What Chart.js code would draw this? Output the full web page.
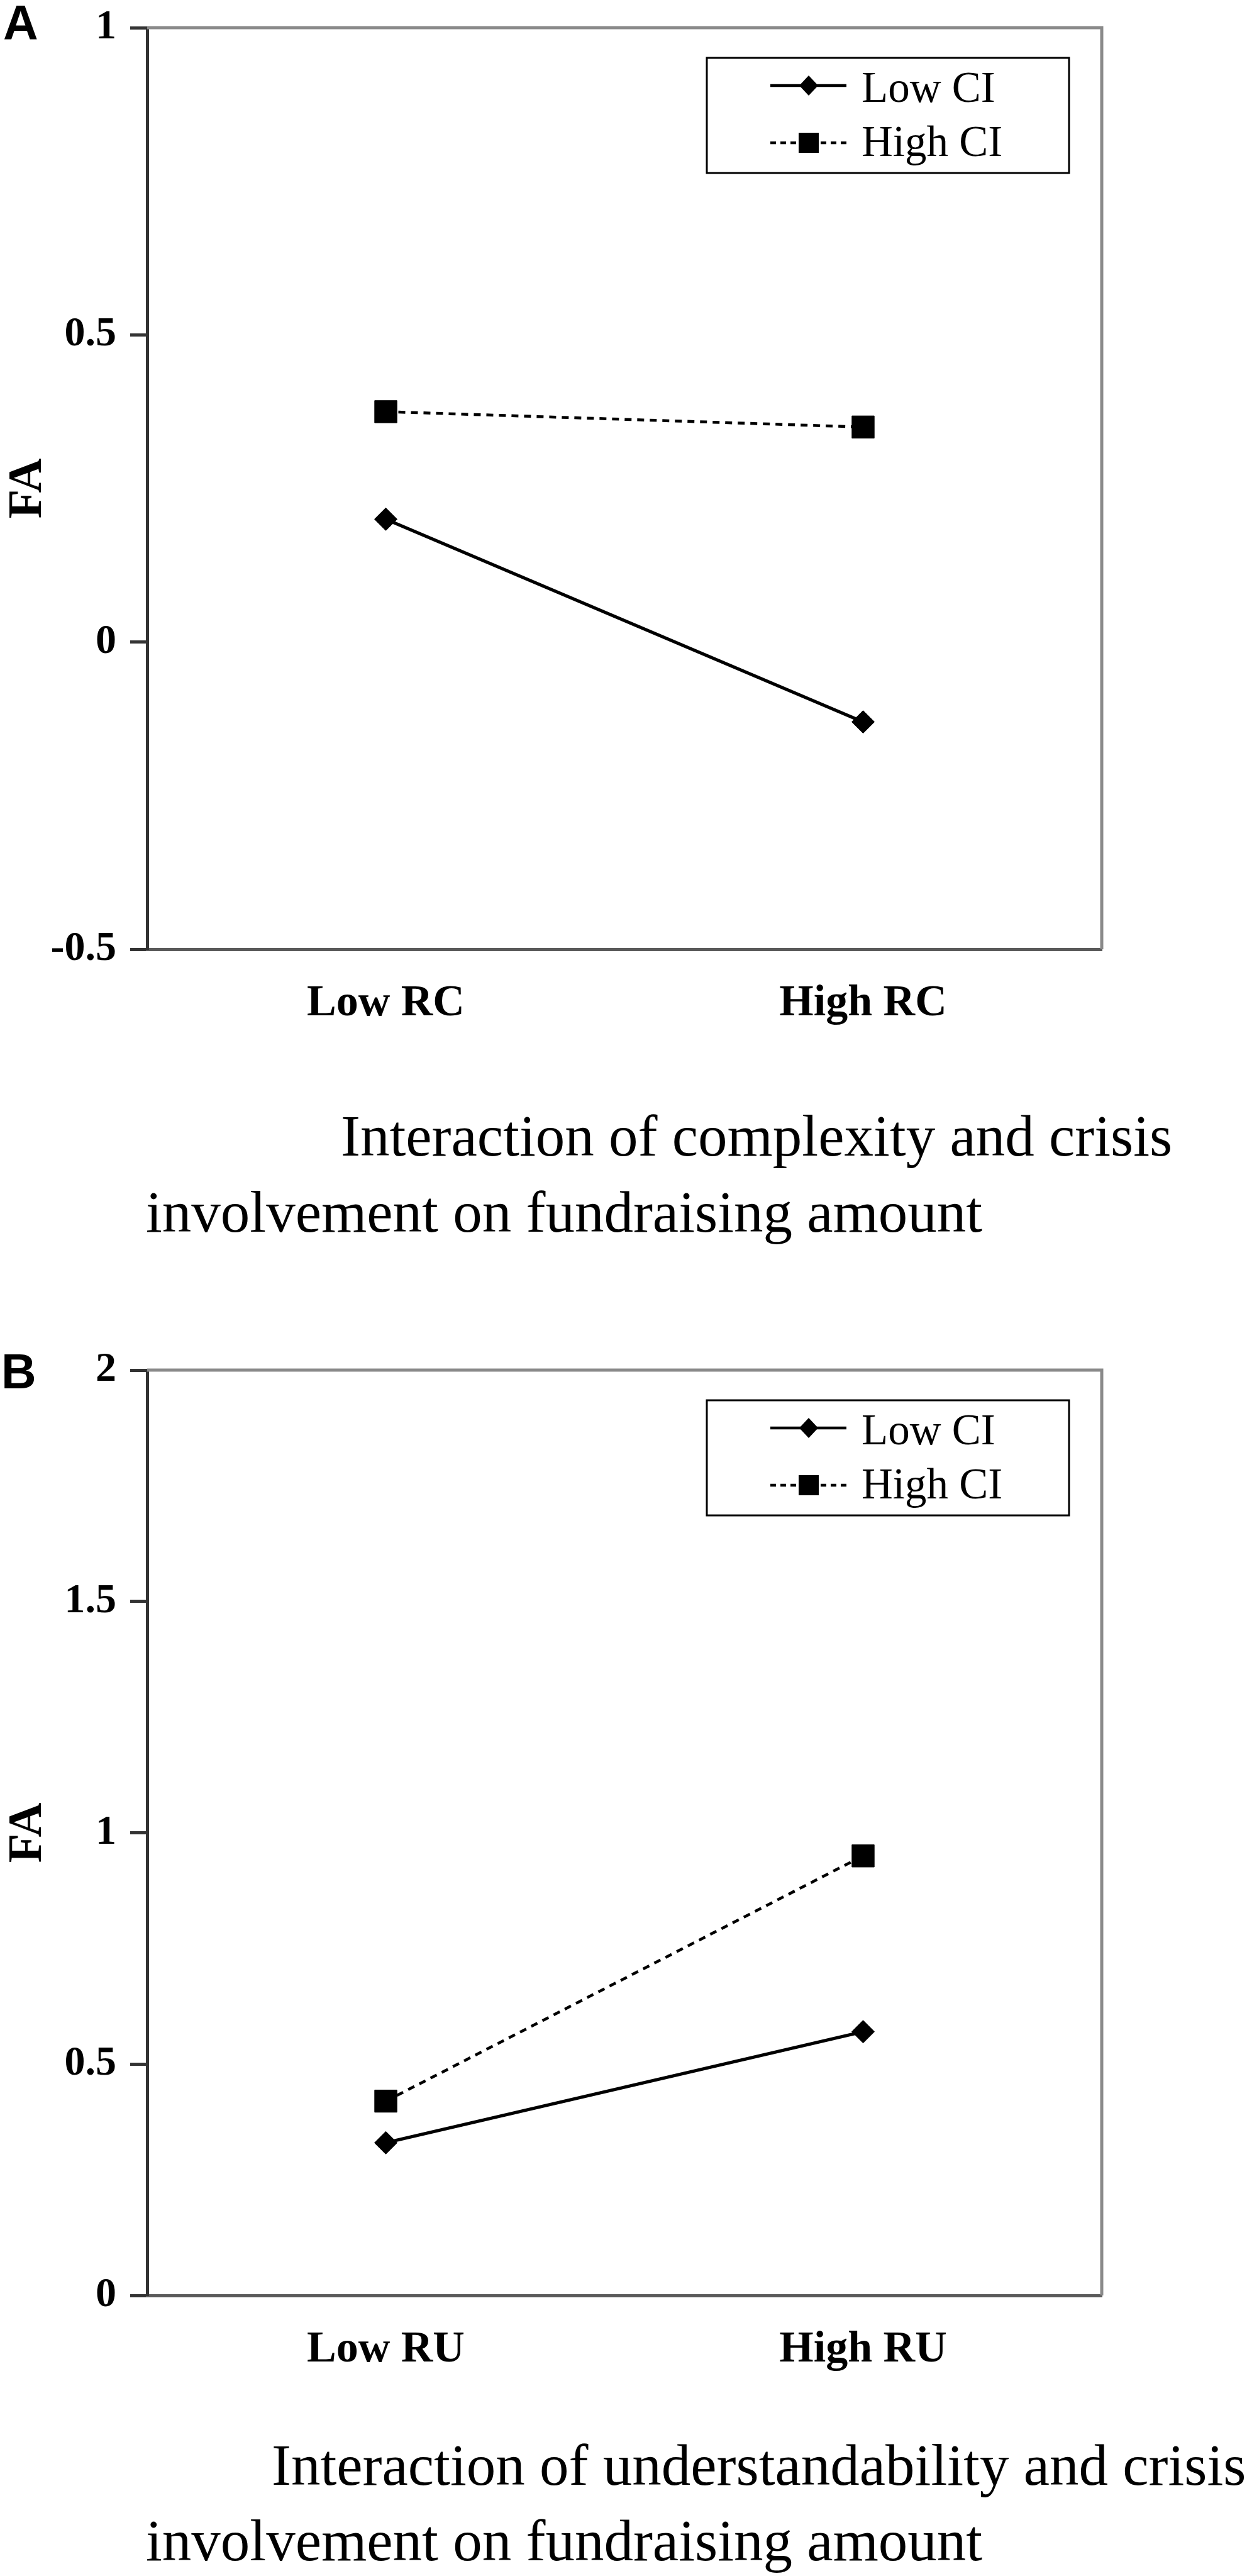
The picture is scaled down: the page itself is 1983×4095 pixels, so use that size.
<!DOCTYPE html>
<html>
<head>
<meta charset="utf-8">
<script src="https://cdn.jsdelivr.net/npm/chart.js@4/dist/chart.umd.min.js"></script>
<style>
  html, body { margin: 0; padding: 0; background: #fff; }
  body { width: 1983px; height: 4095px; position: relative; overflow: hidden; }
  .wrap { position: absolute; left: 0; width: 1983px; height: 1700px; }
  .panel { position: absolute; font: bold 77px "Liberation Sans", Arial, sans-serif; line-height: 77px; color: #000; }
  .cap { position: absolute; font: 93px "Liberation Serif", "Times New Roman", serif; line-height: 120px; color: #000; white-space: nowrap; }
</style>
</head>
<body>
<div class="panel" style="left:5px; top:-2px;">A</div>
<div class="wrap" style="top:0px;"><canvas id="chartA"></canvas></div>
<div class="cap" style="left:542px; top:1746px;">Interaction of complexity and crisis</div>
<div class="cap" style="left:232px; top:1867px;">involvement on fundraising amount</div>

<div class="panel" style="left:2px; top:2142px;">B</div>
<div class="wrap" style="top:2134px;"><canvas id="chartB"></canvas></div>
<div class="cap" style="left:432px; top:3859px;">Interaction of understandability and crisis</div>
<div class="cap" style="left:232px; top:3979px;">involvement on fundraising amount</div>

<script>
// ---- Data ----
const seriesNames = ['Low CI', 'High CI'];

const categoriesA = ['Low RC', 'High RC'];
const lowCI_A  = [0.2, -0.13];
const highCI_A = [0.375, 0.35];
const yMinA = -0.5, yMaxA = 1, yStepA = 0.5;

const categoriesB = ['Low RU', 'High RU'];
const lowCI_B  = [0.33, 0.57];
const highCI_B = [0.42, 0.95];
const yMinB = 0, yMaxB = 2, yStepB = 0.5;

const yTitle = 'FA';

// ---- Plugins ----
const framePlugin = {
  id: 'frame',
  beforeDatasetsDraw(chart) {
    const {ctx, chartArea: a} = chart;
    ctx.save();
    ctx.strokeStyle = '#8a8a8a';
    ctx.lineWidth = 5;
    ctx.beginPath();
    ctx.moveTo(a.left, a.top);
    ctx.lineTo(a.right, a.top);
    ctx.lineTo(a.right, a.bottom);
    ctx.stroke();
    ctx.restore();
  }
};

const boxLegendPlugin = {
  id: 'boxLegend',
  afterDraw(chart) {
    const {ctx, chartArea: a} = chart;
    const w = 576, h = 183;
    const left = a.right - 52 - w, top = a.top + 48;
    ctx.save();
    ctx.fillStyle = '#fff';
    ctx.fillRect(left, top, w, h);
    ctx.strokeStyle = '#000';
    ctx.lineWidth = 3;
    ctx.strokeRect(left, top, w, h);
    const rows = [{ly: 44, ty: 70}, {ly: 135, ty: 156}];
    chart.data.datasets.forEach((ds, i) => {
      const r = rows[i];
      const y = top + r.ly;
      ctx.strokeStyle = '#000';
      ctx.lineWidth = 4.5;
      ctx.setLineDash(ds.borderDash ? [9, 7] : []);
      ctx.beginPath();
      ctx.moveTo(left + 101, y);
      ctx.lineTo(left + 222, y);
      ctx.stroke();
      ctx.setLineDash([]);
      const cx = left + 162;
      ctx.fillStyle = '#000';
      ctx.beginPath();
      if (ds.pointStyle === 'rectRot') {
        ctx.moveTo(cx, y - 16); ctx.lineTo(cx + 15, y); ctx.lineTo(cx, y + 16); ctx.lineTo(cx - 15, y);
      } else {
        ctx.rect(cx - 16, y - 16, 32, 32);
      }
      ctx.closePath();
      ctx.fill();
      ctx.font = '69px "Liberation Serif", "Times New Roman", serif';
      ctx.textBaseline = 'alphabetic';
      ctx.textAlign = 'left';
      ctx.fillText(ds.label, left + 246, top + r.ty);
    });
    ctx.restore();
  }
};

function makeChart(id, cats, low, high, yMin, yMax, yStep, axisHeight) {
  return new Chart(document.getElementById(id), {
    type: 'line',
    data: {
      labels: cats,
      datasets: [
        {
          label: seriesNames[0], data: low,
          borderColor: '#000', backgroundColor: '#000', borderWidth: 5,
          pointStyle: 'rectRot', pointRadius: 18, pointHoverRadius: 18,
          pointBackgroundColor: '#000', pointBorderColor: '#000', pointBorderWidth: 1,
          tension: 0, fill: false
        },
        {
          label: seriesNames[1], data: high,
          borderColor: '#000', backgroundColor: '#000', borderWidth: 4.5, borderDash: [11, 9],
          pointStyle: 'rect', pointRadius: 25, pointHoverRadius: 25,
          pointBackgroundColor: '#000', pointBorderColor: '#000', pointBorderWidth: 1,
          tension: 0, fill: false
        }
      ]
    },
    options: {
      responsive: true,
      maintainAspectRatio: false,
      devicePixelRatio: 1,
      animation: false,
      events: [],
      layout: { padding: { top: 44, right: 231, left: 0, bottom: 0 } },
      plugins: { legend: { display: false }, tooltip: { enabled: false }, title: { display: false } },
      scales: {
        x: {
          type: 'category',
          offset: true,
          grid: { display: true, drawOnChartArea: false, drawTicks: false },
          border: { display: true, color: '#5a5a5a', width: 5 },
          ticks: {
            color: '#000', padding: 45,
            font: { family: '"Liberation Serif", "Times New Roman", serif', size: 70, weight: 'bold' }
          },
          afterFit(scale) { scale.height = axisHeight; scale.paddingLeft = 0; scale.paddingRight = 0; }
        },
        y: {
          min: yMin, max: yMax,
          grid: { display: true, drawOnChartArea: false, drawTicks: true, tickLength: 27, tickWidth: 5, tickColor: '#333' },
          border: { display: true, color: '#333', width: 5 },
          ticks: {
            stepSize: yStep, color: '#000', padding: 22,
            font: { family: '"Liberation Serif", "Times New Roman", serif', size: 66, weight: 'bold' },
            callback: (v) => String(v)
          },
          title: {
            display: true, text: yTitle, color: '#000', padding: 0,
            font: { family: '"Liberation Serif", "Times New Roman", serif', size: 76, weight: 'bold', lineHeight: 1.2 }
          },
          afterFit(scale) { scale.width = 234; scale.paddingTop = 0; scale.paddingBottom = 0; }
        }
      }
    },
    plugins: [framePlugin, boxLegendPlugin]
  });
}

makeChart('chartA', categoriesA, lowCI_A, highCI_A, yMinA, yMaxA, yStepA, 191);
makeChart('chartB', categoriesB, lowCI_B, highCI_B, yMinB, yMaxB, yStepB, 185);
</script>
</body>
</html>
